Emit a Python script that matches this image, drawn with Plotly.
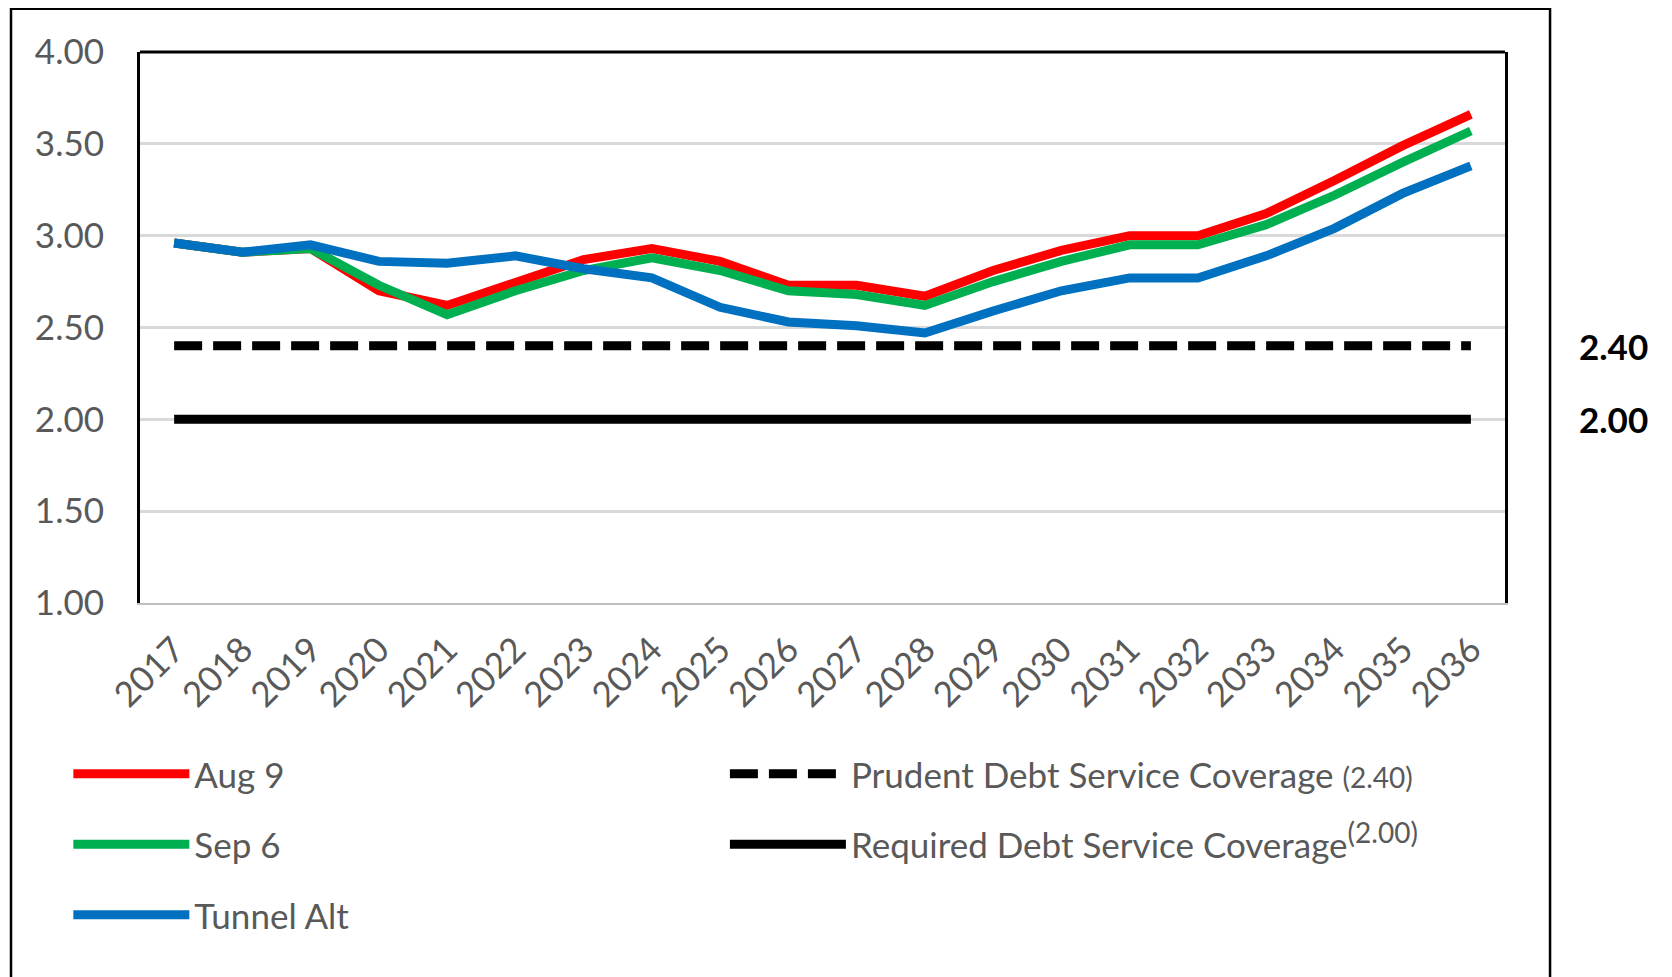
import plotly.graph_objects as go

years = ["2017", "2018", "2019", "2020", "2021", "2022", "2023", "2024", "2025", "2026",
         "2027", "2028", "2029", "2030", "2031", "2032", "2033", "2034", "2035", "2036"]
aug9 = [2.96, 2.91, 2.93, 2.70, 2.62, 2.74, 2.87, 2.93, 2.86, 2.73,
        2.73, 2.67, 2.81, 2.92, 3.00, 3.00, 3.12, 3.30, 3.49, 3.66]
sep6 = [2.96, 2.91, 2.93, 2.73, 2.57, 2.70, 2.81, 2.88, 2.81, 2.70,
        2.68, 2.62, 2.75, 2.86, 2.95, 2.95, 3.06, 3.22, 3.40, 3.57]
tunnel = [2.96, 2.91, 2.95, 2.86, 2.85, 2.89, 2.82, 2.77, 2.61, 2.53,
          2.51, 2.47, 2.59, 2.70, 2.77, 2.77, 2.89, 3.04, 3.23, 3.38]
prudent_level = 2.40
required_level = 2.00
y_ticks = [1.0, 1.5, 2.0, 2.5, 3.0, 3.5, 4.0]

FONT = "Lato"
GREY_TXT = "#595959"

fig = go.Figure()

fig.add_trace(go.Scatter(
    x=years, y=[prudent_level] * len(years), mode="lines",
    name="Prudent Debt Service Coverage <span style='font-size:28px'>(2.40)</span>",
    line=dict(color="black", width=9, dash="28px,11px"),
    legend="legend2", legendgroup="p"))
fig.add_trace(go.Scatter(
    x=years, y=[required_level] * len(years), mode="lines",
    name="Required Debt Service Coverage<sup><span style='font-size:28px'>(2.00)</span></sup>",
    line=dict(color="black", width=9),
    legend="legend2", legendgroup="r"))
fig.add_trace(go.Scatter(x=years, y=aug9, mode="lines", name="Aug 9",
                         line=dict(color="#ff0000", width=9), legend="legend", legendgroup="a"))
fig.add_trace(go.Scatter(x=years, y=sep6, mode="lines", name="Sep 6",
                         line=dict(color="#00b050", width=9), legend="legend", legendgroup="s"))
fig.add_trace(go.Scatter(x=years, y=tunnel, mode="lines", name="Tunnel Alt",
                         line=dict(color="#0070c0", width=9), legend="legend", legendgroup="t"))

legend_common = dict(
    orientation="v", xanchor="left", yanchor="top",
    font=dict(family=FONT, size=35, color=GREY_TXT),
    bgcolor="rgba(0,0,0,0)", itemwidth=116, tracegroupgap=22,
    traceorder="grouped", itemclick=False, itemdoubleclick=False,
)

fig.update_layout(
    width=1664, height=969,
    margin=dict(l=132, r=167, t=44, b=374, pad=0),
    paper_bgcolor="white", plot_bgcolor="white",
    font=dict(family=FONT, color=GREY_TXT),
    showlegend=True,
    legend=dict(x=-0.0525, y=-0.257, **legend_common),
    legend2=dict(x=0.4285, y=-0.257, **legend_common),
    xaxis=dict(
        type="category", range=[-0.5, len(years) - 0.5],
        showgrid=False, showline=True, linecolor="#bfbfbf", linewidth=2,
        tickangle=-45, tickfont=dict(family=FONT, size=35, color=GREY_TXT),
        ticks="", ticklabelstandoff=10, fixedrange=True,
    ),
    yaxis=dict(
        range=[1, 4], tickvals=y_ticks, tickformat=".2f",
        showgrid=True, gridcolor="#d9d9d9", gridwidth=3,
        showline=True, linecolor="black", linewidth=3, mirror=True,
        zeroline=False, ticks="",
        tickfont=dict(family=FONT, size=35, color=GREY_TXT),
        ticklabelstandoff=26, fixedrange=True,
    ),
    shapes=[
        dict(type="line", xref="paper", yref="paper", x0=0, x1=1, y0=1, y1=1,
             line=dict(color="black", width=3), layer="above"),
        dict(type="rect", xref="paper", yref="paper", x0=-0.0945, x1=1.033,
             y0=-0.75, y1=1.0785, line=dict(color="black", width=2.5),
             fillcolor="rgba(0,0,0,0)", layer="above"),
    ],
    annotations=[
        dict(xref="paper", yref="y", x=1.0527, y=prudent_level, xanchor="left", yanchor="middle",
             text=f"{prudent_level:.2f}", showarrow=False,
             font=dict(family=FONT, size=35, color="black", weight=700)),
        dict(xref="paper", yref="y", x=1.0527, y=required_level, xanchor="left", yanchor="middle",
             text=f"{required_level:.2f}", showarrow=False,
             font=dict(family=FONT, size=35, color="black", weight=700)),
    ],
)

fig.write_html("out.html")
